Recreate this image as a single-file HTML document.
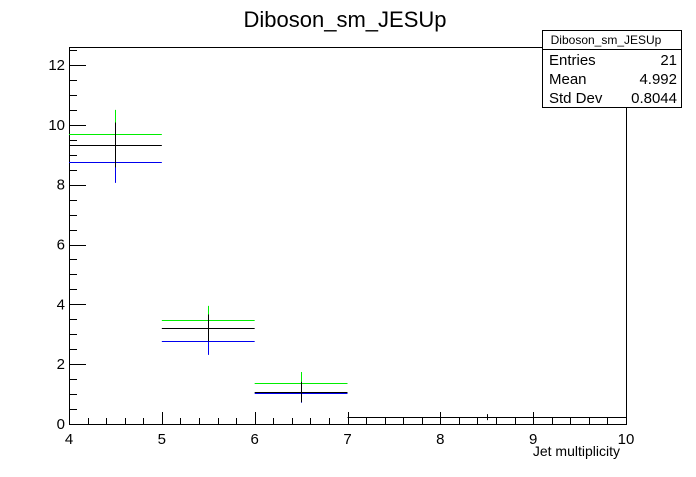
<!DOCTYPE html>
<html><head><meta charset="utf-8"><style>
body{margin:0;background:#fff;}
svg text{font-family:"Liberation Sans",Arial,sans-serif;}
</style></head><body>
<svg id="c" width="696" height="472" xmlns="http://www.w3.org/2000/svg">
<rect width="696" height="472" fill="#fff"/>
<text x="345" y="27" font-size="22" text-anchor="middle">Diboson_sm_JESUp</text>
<g id="axes"></g>
<g id="series"></g>
<g>
<rect x="542.5" y="30.5" width="139" height="77" fill="#fff" stroke="#000"/>
<line x1="542" y1="49.5" x2="681" y2="49.5" stroke="#000"/>
<text x="606" y="44" font-size="12" text-anchor="middle">Diboson_sm_JESUp</text>
<text x="549" y="65" font-size="15">Entries</text>
<text x="677" y="65" font-size="15" text-anchor="end">21</text>
<text x="549" y="84" font-size="15">Mean</text>
<text x="677" y="84" font-size="15" text-anchor="end">4.992</text>
<text x="549" y="103" font-size="15">Std Dev</text>
<text x="677" y="103" font-size="15" text-anchor="end">0.8044</text>
</g>
<text x="620" y="456" font-size="14" text-anchor="end">Jet multiplicity</text>
</svg>
<script>
const binEdges=[4,5,6,7,8,9,10];
const nominal=[9.33,3.21,1.07,0.23,0.23,0.23];
const nominalErr=[0.75,0.45,0.34,0,0.1,0];
const up=[9.7,3.48,1.37];
const upErr=[0.8,0.47,0.37];
const down=[8.76,2.78,1.04];
const downErr=[0.7,0.47,0.33];
const xTicks=[4,5,6,7,8,9,10];
const yTicks=[0,2,4,6,8,10,12];
const X0=69,X1=626,Y0=424,Y1=47;
const xs=v=>X0+(v-4)/6*(X1-X0);
const ys=v=>Y0-v*(Y0-65)/12;
const NS="http://www.w3.org/2000/svg";
function mk(parent,tag,attrs){const e=document.createElementNS(NS,tag);for(const k in attrs)e.setAttribute(k,attrs[k]);parent.appendChild(e);return e;}
const ax=document.getElementById('axes');
let fr=mk(ax,'rect',{x:X0+.5,y:Y1+.5,width:X1-X0,height:Y0-Y1,fill:'none',stroke:'#000'});


for(let v=4;v<=10.001;v+=0.2){const major=Math.abs(v-Math.round(v))<1e-6;const x=Math.round(xs(v))+.5;
 const t=mk(ax,'line',{x1:x,x2:x,y1:Y0,y2:Y0-(major?12:6),stroke:'#000'});
 
 }
xTicks.forEach(v=>{const t=mk(ax,'text',{x:xs(v),y:Y0+20,'font-size':15,'text-anchor':'middle'});t.textContent=v;
 
 });
for(let v=0;v<=12.5;v+=0.5){const major=Math.abs(v%2)<1e-6;const y=Math.round(ys(v))+.5;
 const t=mk(ax,'line',{x1:X0,x2:X0+(major?17:8),y1:y,y2:y,stroke:'#000'});
 
 }
yTicks.forEach(v=>{const t=mk(ax,'text',{x:X0-4,y:ys(v)+5,'font-size':15,'text-anchor':'end'});t.textContent=v;
 
 });
const sg=document.getElementById('series');
function drawSeries(vals,errs,color,name){
 vals.forEach((v,i)=>{const a=xs(binEdges[i]),b=xs(binEdges[i+1]),y=Math.round(ys(v))+.5,xm=Math.round((a+b)/2)+.5;
  const h=mk(sg,'line',{x1:a,x2:b,y1:y,y2:y,stroke:color,'stroke-width':1});
  
  
  if(errs[i]>0){const e=mk(sg,'line',{x1:xm,x2:xm,y1:ys(v+errs[i]),y2:ys(v-errs[i]),stroke:color,'stroke-width':1});
   
   }
 });
}
drawSeries(up,upErr,'#00ee00','jes-up');
drawSeries(down,downErr,'#0000ee','jes-down');
drawSeries(nominal,nominalErr,'#000','nominal');
</script>
</body></html>
